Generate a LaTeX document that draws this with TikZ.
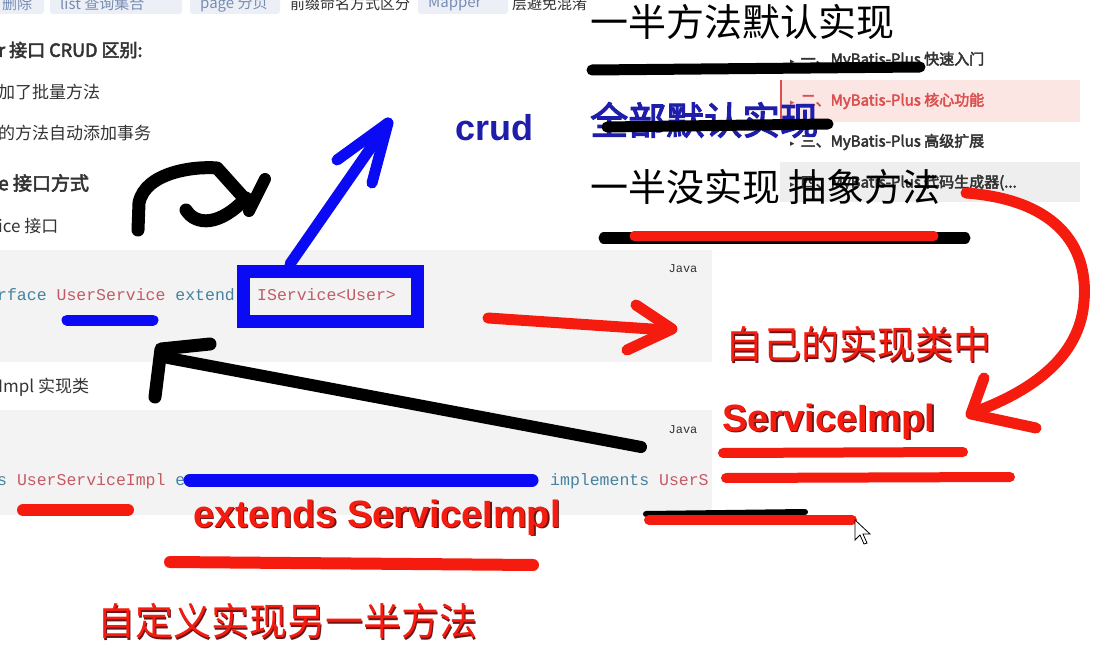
\documentclass[tikz,border=0pt]{standalone}
\usepackage{fontspec}
\usepackage{xcolor}
\usepackage{tikz}
\setmainfont{Noto Sans CJK SC}
\newfontfamily\arialfont{Liberation Sans}
\newfontfamily\codefont{Liberation Mono}
\newfontfamily\symfont{DejaVu Sans}
\newfontfamily\cjkbold[FakeBold=3]{Noto Sans CJK SC}
\definecolor{penblue}{RGB}{10,10,245}
\definecolor{penred}{RGB}{245,28,15}
\definecolor{penblack}{RGB}{0,0,0}
\definecolor{inkblue}{RGB}{30,30,170}
\definecolor{redshadow}{RGB}{110,20,20}
\definecolor{textgray}{RGB}{51,51,51}
\definecolor{codebg}{RGB}{243,243,243}
\definecolor{codekey}{RGB}{70,130,160}
\definecolor{coderose}{RGB}{196,90,100}
\definecolor{tagbg}{RGB}{236,240,246}
\definecolor{tagtext}{RGB}{120,140,180}
\definecolor{navpink}{RGB}{252,230,228}
\definecolor{navred}{RGB}{220,80,80}
\definecolor{navgray}{RGB}{238,238,238}
\newcommand{\pxsize}[1]{\fontsize{#1}{#1}\selectfont}
\newcommand{\redshade}[1]{\makebox[0pt][l]{\hspace{1.5pt}\raisebox{-1.5pt}{\color{redshadow}#1}}#1}
\newcommand{\navmark}{{\symfont\pxsize{9}▸}\hspace{6pt}}
\tikzset{
  pen/.style={line width=11pt, line cap=round, line join=round},
  txt/.style={anchor=west, inner sep=0pt, text=textgray}
}

\begin{document}
\begin{tikzpicture}[x=1pt,y=-1pt]
  \useasboundingbox (0,0) rectangle (1096,650);
  \fill[white] (0,0) rectangle (1096,650);

  % Tag strip (cut off at top)
  \fill[tagbg, rounded corners=3pt] (-10,-12) rectangle (44,14);
  \fill[tagbg, rounded corners=3pt] (50,-12) rectangle (182,14);
  \fill[tagbg, rounded corners=3pt] (190,-12) rectangle (280,14);
  \fill[tagbg, rounded corners=3pt] (418,-12) rectangle (508,14);
  \node (tagdel) [txt, text=tagtext, font=\pxsize{15}] at (2,4) {删除};
  \node (taglist) [txt, text=tagtext, font=\pxsize{15}] at (60,4) {list 查询集合};
  \node (tagpage) [txt, text=tagtext, font=\pxsize{15}] at (200,4) {page 分页};
  \node (tagprefix) [txt, font=\pxsize{15}] at (290,4) {前缀命名方式区分};
  \node (tagmapper) [txt, text=tagtext, font=\pxsize{15}] at (428,4) {Mapper};
  \node (tagavoid) [txt, font=\pxsize{15}] at (512,4) {层避免混淆};

  % Left article text
  \node (crudhead) [txt, font=\cjkbold\pxsize{18}] at (-2,50) {r 接口 CRUD 区别:};
  \node (batch) [txt, font=\pxsize{17}] at (-2,92) {加了批量方法};
  \node (trans) [txt, font=\pxsize{17}] at (-2,133) {的方法自动添加事务};
  \node (wayhead) [txt, font=\cjkbold\pxsize{19}] at (-2,183) {e 接口方式};
  \node (iface) [txt, font=\pxsize{17}] at (-2,226) {ice 接口};
  \node (implhead) [txt, font=\pxsize{17}] at (-2,387) {Impl 实现类};

  % Code blocks
  \fill[codebg] (0,250) rectangle (712,362);
  \node (javaone) [font=\codefont\pxsize{12}, text=textgray] at (683,269) {Java};
  \node (codeone) [txt, font=\codefont\pxsize{16.5}] at (-3,295)
    {\textcolor{codekey}{rface} \textcolor{coderose}{UserService} \textcolor{codekey}{extend}};
  \node (iservice) [txt, text=coderose, font=\codefont\pxsize{16.5}] at (257,295) {IService<User>};

  \fill[codebg] (0,410) rectangle (712,515);
  \node (javatwo) [font=\codefont\pxsize{12}, text=textgray] at (683,430) {Java};
  \node (codetwo) [txt, font=\codefont\pxsize{16.5}] at (-3,481)
    {\textcolor{codekey}{s} \textcolor{coderose}{UserServiceImpl} \textcolor{codekey}{e}};
  \node (codeimpl) [txt, font=\codefont\pxsize{16.5}] at (550,481)
    {\textcolor{codekey}{implements} \textcolor{coderose}{UserS}};

  % Outline sidebar
  \fill[navpink] (780,80) rectangle (1080,122);
  \draw[navred, line width=2pt] (781,80) -- (781,122);
  \fill[navgray] (780,162) rectangle (1080,202);
  \node (navone) [txt, font=\cjkbold\pxsize{15}] at (790,60) {\navmark 一、MyBatis-Plus 快速入门};
  \node (navtwo) [txt, text=navred, font=\cjkbold\pxsize{15}] at (790,101) {\navmark 二、MyBatis-Plus 核心功能};
  \node (navthree) [txt, font=\cjkbold\pxsize{15}] at (790,142) {\navmark 三、MyBatis-Plus 高级扩展};
  \node (navfour) [txt, font=\cjkbold\pxsize{15}] at (790,183) {\navmark 四、MyBatis-Plus 代码生成器(...};

  % Big notes top right
  \node (halfdefault) [txt, text=penblack, font=\pxsize{38}] at (590,22) {一半方法默认实现};
  \draw[pen, penblack] (592,70) -- (920,67);
  \node (alldefault) [txt, text=inkblue, font=\cjkbold\pxsize{38}] at (590,120) {全部默认实现};
  \draw[pen, penblack] (607,127) -- (828,124);
  \node (halfabstract) [txt, text=penblack, font=\pxsize{38}] at (590,187) {一半没实现 抽象方法};
  \draw[pen, penblack] (604,238) -- (965,238);
  \draw[pen, penred, line width=9pt] (634,236) -- (934,236);
  \node (crud) [txt, text=inkblue, font=\arialfont\bfseries\pxsize{36}] at (455,128) {crud};

  % Blue marks
  \draw[pen, penblue] (290,264) -- (388,123);
  \draw[pen, penblue] (337,160) -- (388,123) -- (372,183);
  \draw[penblue, line width=13pt] (243.5,271.5) rectangle (417.5,321.5);
  \draw[pen, penblue] (67,320) -- (153,320);
  \draw[pen, penblue, line width=13pt] (190,480) -- (532,480);

  % Black curl
  \draw[pen, penblack, line width=13pt] (138,230) -- (139,203)
    .. controls (145,172) and (195,166) .. (217,168) -- (244,198);
  \draw[pen, penblack, line width=13pt] (186,210) .. controls (196,226) and (220,226) .. (246,198);
  \draw[pen, penblack, line width=12pt] (265,179) -- (249,211);

  % Red arrow to own class
  \draw[pen, penred] (488,318) -- (666,330);
  \draw[pen, penred] (636,305) -- (672,329) -- (627,350);
  \node (ownclass) [txt, text=penred, font=\pxsize{38}] at (725,345) {\redshade{自己的实现类中}};

  % Red curved arrow
  \draw[pen, penred] (966,193) .. controls (1060,200) and (1092,250) .. (1083,310)
    .. controls (1075,360) and (1030,392) .. (972,413);
  \draw[pen, penred] (984,378) -- (971,414) -- (1036,428);
  \node (serviceimpl) [txt, text=penred, font=\arialfont\bfseries\pxsize{38}] at (722,422) {\redshade{ServiceImpl}};
  \draw[pen, penred, line width=10pt] (723,453) -- (963,452);
  \draw[pen, penred, line width=10pt] (726,478) -- (1010,477);

  % Black arrow back to the interface
  \draw[pen, penblack, line width=12pt] (641,447) -- (168,358);
  \draw[pen, penblack, line width=13pt] (210,344) -- (161,349) -- (155,397);

  % Bottom notes
  \draw[pen, penred, line width=12pt] (23,510) -- (128,510);
  \node (extendsimpl) [txt, text=penred, font=\arialfont\bfseries\pxsize{38}] at (193,518) {\redshade{extends ServiceImpl}};
  \draw[pen, penred, line width=12pt] (170,562) -- (533,565);
  \draw[pen, penblack, line width=6pt] (646,514) -- (805,512);
  \draw[pen, penred, line width=10pt] (649,520) -- (852,520);
  \filldraw[fill=white, draw=black, line width=0.8pt]
    (855,520) -- (855,540) -- (860,535) -- (864,544) -- (867,543) -- (863,534) -- (870,534) -- cycle;
  \node (customhalf) [txt, text=penred, font=\pxsize{38}] at (97,622) {\redshade{自定义实现另一半方法}};

\end{tikzpicture}
\end{document}
